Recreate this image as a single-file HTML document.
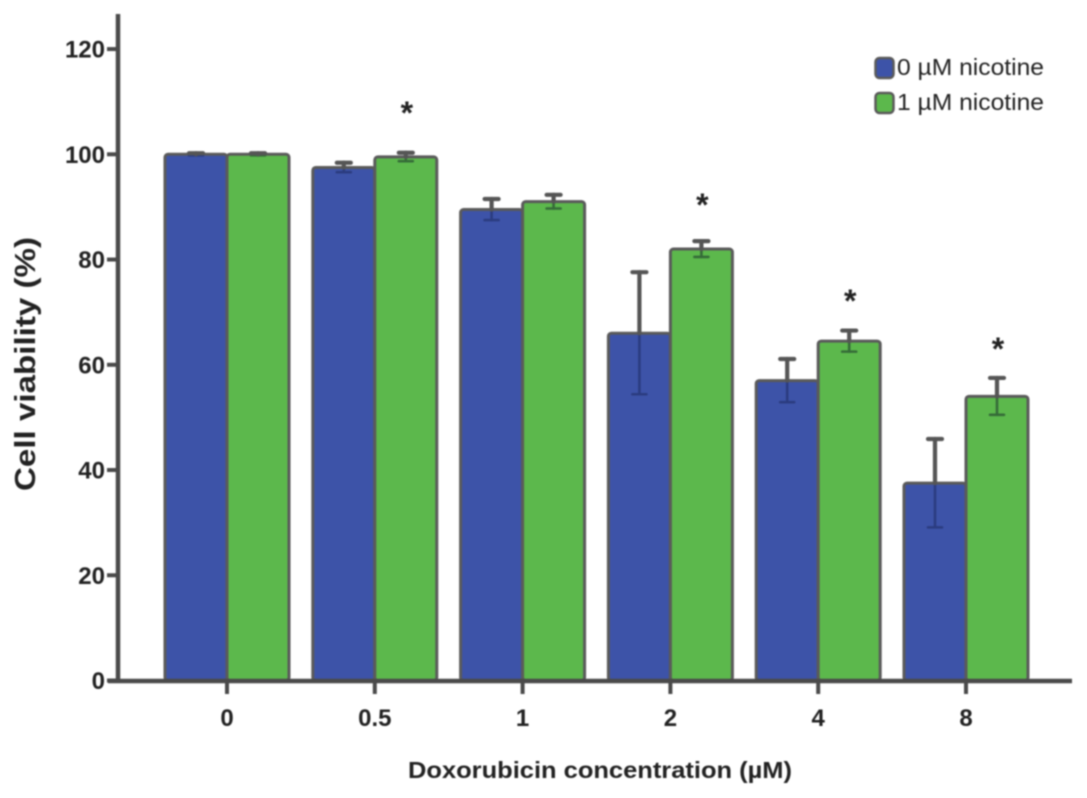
<!DOCTYPE html>
<html>
<head>
<meta charset="utf-8">
<style>
html,body{margin:0;padding:0;background:#fff;}
body{width:1087px;height:798px;overflow:hidden;}
svg{display:block;filter:blur(0.8px);}
text{font-family:"Liberation Sans",sans-serif;fill:#222;}
</style>
</head>
<body>
<svg id="chart" width="1087" height="798" viewBox="0 0 1087 798" xmlns="http://www.w3.org/2000/svg"></svg>
<script>
const categories = ["0", "0.5", "1", "2", "4", "8"];
const seriesNames = ["0 µM nicotine", "1 µM nicotine"];
const blueValues = [100, 97.5, 89.5, 66, 57, 37.5];
const greenValues = [100, 99.5, 91, 82, 64.5, 54];
const blueErrors = [0.2, 0.9, 2, 11.6, 4.1, 8.4];
const greenErrors = [0.2, 0.8, 1.3, 1.5, 2, 3.5];
const starLevels = [null, 108.4, null, 90.9, 72.7, 63.6];
const yTicks = [0, 20, 40, 60, 80, 100, 120];

const NS = "http://www.w3.org/2000/svg";
const svg = document.getElementById("chart");
const yScale = v => 680.5 - v * 5.262;
const groupCenter = i => 227 + i * 147.8;
const barWidth = 62;
const barColors = ["#3d53a8", "#5cb84c"];
const lowerWhisker = ["#2b3c80", "#356b38"];
const edge = "#5a5a5a";

function add(tag, attrs, text) {
  const el = document.createElementNS(NS, tag);
  for (const k in attrs) el.setAttribute(k, attrs[k]);
  if (text !== undefined) el.textContent = text;
  svg.appendChild(el);
  return el;
}

function drawBar(i, s, value) {
  const x = groupCenter(i) + (s === 0 ? -barWidth : 0);
  const bar = add("rect", {x: x, y: yScale(value), width: barWidth, height: yScale(0) - yScale(value), rx: 3, fill: barColors[s], stroke: edge, "stroke-width": 3});
  
  
}

function drawError(i, s, value, err) {
  const cx = groupCenter(i) + (s === 0 ? -barWidth / 2 : barWidth / 2);
  const g = document.createElementNS(NS, "g");
  
  
  svg.appendChild(g);
  const segs = [
    [cx, yScale(value), cx, yScale(value - err), 2.6, lowerWhisker[s]],
    [cx - 7, yScale(value - err), cx + 7, yScale(value - err), 2.6, lowerWhisker[s]],
    [cx, yScale(value + err), cx, yScale(value), 4.2, "#555"],
    [cx - 7, yScale(value + err), cx + 7, yScale(value + err), 4.2, "#555"]
  ];
  segs.forEach(p => {
    const l = document.createElementNS(NS, "line");
    l.setAttribute("x1", p[0]);
    l.setAttribute("y1", p[1]);
    l.setAttribute("x2", p[2]);
    l.setAttribute("y2", p[3]);
    l.setAttribute("stroke", p[5]);
    l.setAttribute("stroke-width", p[4]);
    l.setAttribute("stroke-linecap", "round");
    g.appendChild(l);
  });
}

categories.forEach((c, i) => {
  drawBar(i, 0, blueValues[i]);
  drawBar(i, 1, greenValues[i]);
  drawError(i, 0, blueValues[i], blueErrors[i]);
  drawError(i, 1, greenValues[i], greenErrors[i]);
  if (starLevels[i] !== null) {
    const star = add("text", {x: groupCenter(i) + barWidth / 2 + 1, y: yScale(starLevels[i]) + 14, "text-anchor": "middle", "font-size": 32, "font-weight": "bold"}, "*");
    
    
  }
});

// axes
const yAxis = add("line", {x1: 118, y1: 14, x2: 118, y2: 682, stroke: "#4a4a4a", "stroke-width": 4.5});


const xAxis = add("line", {x1: 108, y1: 681, x2: 1072, y2: 681, stroke: "#4a4a4a", "stroke-width": 4.5});



yTicks.forEach(t => {
  const tick = add("line", {x1: 107, y1: yScale(t), x2: 118, y2: yScale(t), stroke: "#4a4a4a", "stroke-width": 4});
  
  
  const label = add("text", {x: 105, y: yScale(t) + 8.5, "text-anchor": "end", "font-size": 24, "font-weight": "bold"}, String(t));
  
  
});

categories.forEach((c, i) => {
  const x = groupCenter(i);
  const tick = add("line", {x1: x, y1: 681, x2: x, y2: 694, stroke: "#4a4a4a", "stroke-width": 4});
  
  
  const label = add("text", {x: x, y: 726, "text-anchor": "middle", "font-size": 24, "font-weight": "bold"}, c);
  
  
});

const xTitle = add("text", {x: 600, y: 778, "text-anchor": "middle", "font-size": 23, "font-weight": "bold", textLength: 384, lengthAdjust: "spacingAndGlyphs"}, "Doxorubicin concentration (µM)");


const yTitle = add("text", {transform: "translate(35 364) rotate(-90)", "text-anchor": "middle", "font-size": 29, "font-weight": "bold", textLength: 254, lengthAdjust: "spacingAndGlyphs"}, "Cell viability (%)");



// legend
seriesNames.forEach((n, s) => {
  const y = 58 + s * 35;
  const swatch = add("rect", {x: 875.5, y: y, width: 18, height: 20, rx: 4, fill: barColors[s], stroke: edge, "stroke-width": 2.5});
  
  
  const label = add("text", {x: 897, y: y + 17, "font-size": 23, textLength: 147, lengthAdjust: "spacingAndGlyphs"}, n);
  
  
});
</script>
</body>
</html>
